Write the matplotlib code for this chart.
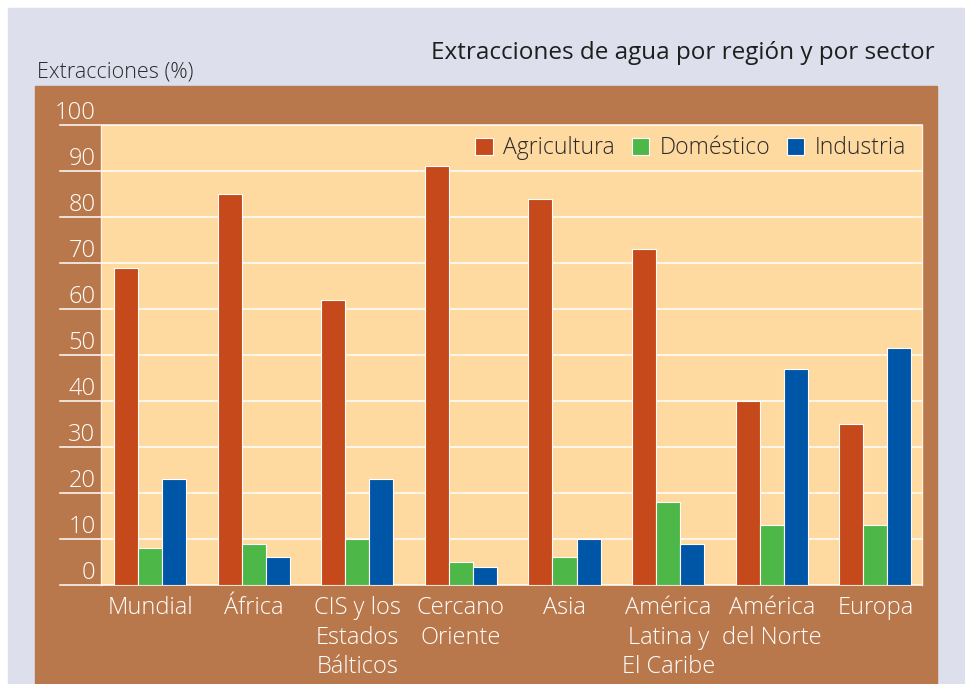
import matplotlib
matplotlib.use("Agg")
import matplotlib.pyplot as plt
import numpy as np
from matplotlib.patches import Rectangle, Patch

plt.rcParams['font.family'] = ['Open Sans', 'DejaVu Sans']

# data
regions = ["Mundial", "África", "CIS y los\nEstados\nBálticos", "Cercano\nOriente",
           "Asia", "América\nLatina y\nEl Caribe", "América\ndel Norte", "Europa"]
agricultura = [69, 85, 62, 91, 84, 73, 40, 35]
domestico = [8, 9, 10, 5, 6, 18, 13, 13]
industria = [23, 6, 23, 4, 10, 9, 47, 51.5]
series_names = ["Agricultura", "Doméstico", "Industria"]
yticks = [0, 10, 20, 30, 40, 50, 60, 70, 80, 90, 100]

colors = ["#c6491b", "#4db848", "#0056a6"]
brown = "#b9784b"
plot_bg = "#fed9a0"
lavender = "#dde0ec"

fig = plt.figure(figsize=(9.65, 6.84), dpi=100, facecolor="white")

# background panels
fig.patches.append(Rectangle((8 / 965, 0), 1 - 8 / 965, 1 - 8 / 684,
                             transform=fig.transFigure, color=lavender, zorder=-3))
fig.patches.append(Rectangle((35 / 965, 1 / 684), 902 / 965, 597 / 684,
                             transform=fig.transFigure, color=brown, zorder=-2))

ax = fig.add_axes([101 / 965, 1 - 585 / 684, 821 / 965, 460 / 684])
ax.set_facecolor(plot_bg)

x = np.arange(len(regions))
w = 0.232
for i, (vals, c) in enumerate(zip([agricultura, domestico, industria], colors)):
    ax.bar(x + (i - 1) * w, vals, width=w, color=c, edgecolor="white",
           linewidth=0.8, zorder=3)

ax.set_xlim(-0.473, 7.45)
ax.set_ylim(0, 100)

# gridlines extending into the brown frame
for y in yticks:
    ax.axhline(y, xmin=-0.05, xmax=1, color="white", lw=1.1, clip_on=False, zorder=1)

ax.set_yticks(yticks)
ax.set_yticklabels([str(t) for t in yticks], color="white", fontsize=17,
                   fontweight="light")
for lab in ax.get_yticklabels():
    lab.set_va("bottom")
ax.tick_params(axis="y", length=0, pad=4)

ax.set_xticks(x)
ax.set_xticklabels(regions, color="white", fontsize=17, fontweight="light",
                   linespacing=1.3)
ax.tick_params(axis="x", length=0, pad=8)

for s in ["top", "bottom"]:
    ax.spines[s].set_visible(False)
for s in ["left", "right"]:
    ax.spines[s].set_color("#fff1dc")
    ax.spines[s].set_linewidth(1)

handles = [Patch(facecolor=c, edgecolor="white", linewidth=0.8) for c in colors]
leg = ax.legend(handles, series_names, loc="upper right", ncol=3, frameon=False,
                fontsize=16.5, handlelength=0.75, handleheight=0.75,
                handletextpad=0.45, columnspacing=0.75,
                bbox_to_anchor=(1.0, 1.01), borderaxespad=0.3)
for t in leg.get_texts():
    t.set_color("#2a2a2a")
    t.set_fontweight("light")

fig.text(935 / 965, 1 - 53 / 684, "Extracciones de agua por región y por sector",
         ha="right", va="center", fontsize=17.5, color="#1e1e1e")
fig.text(37 / 965, 1 - 72 / 684, "Extracciones (%)", ha="left", va="center",
         fontsize=15.5, color="#2a2a2a", fontweight="light")

fig.savefig("out.png", dpi=100, facecolor=fig.get_facecolor())
